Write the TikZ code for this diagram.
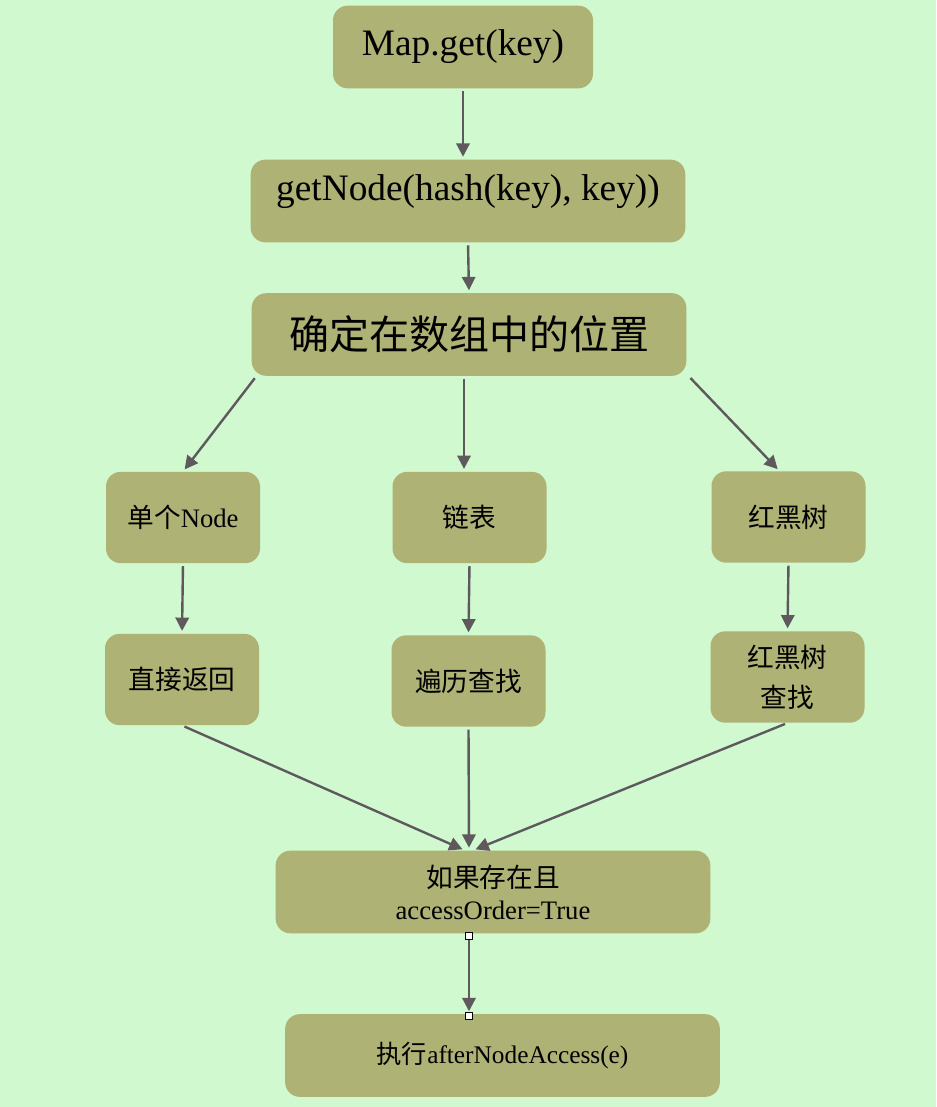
\documentclass[tikz,border=0pt]{standalone}
\usepackage{fontspec}
\setmainfont{Liberation Serif}
\newfontfamily\cjk{Noto Sans CJK SC}
\usetikzlibrary{arrows.meta,calc,positioning}
\definecolor{bggreen}{RGB}{208,249,208}
\definecolor{boxolive}{RGB}{174,178,116}
\definecolor{arrgray}{RGB}{95,89,94}
\tikzset{
	>={Triangle[length=10pt,width=10pt]},
	bigbox/.style={
		rectangle,
		rounded corners=11pt,
		fill=boxolive,
		minimum width=326pt,
		minimum height=62pt,
		inner sep=0pt,
		align=center},
	smallbox/.style={
		rectangle,
		rounded corners=11pt,
		fill=boxolive,
		minimum width=115.5pt,
		minimum height=68.5pt,
		inner sep=0pt,
		align=center,
		font=\fontsize{20}{30}\selectfont},
	arr/.style={
		->,
		draw=arrgray,
		line width=1.8pt,
		shorten <=2pt,
		shorten >=2pt,},
	handle/.style={
		rectangle,
		draw=black,
		fill=white,
		line width=0.5pt,
		minimum size=5pt,
		inner sep=0pt}
}

\begin{document}
\begin{tikzpicture}[x=0.75pt,y=0.75pt,yscale=-1,xscale=1]
\fill[bggreen] (0,0) rectangle (936,1107);

% Boxes
\node[bigbox, minimum width=195pt, font=\fontsize{28}{34}\selectfont] (mapget) at (463,47) {Map.get(key)};
\node[bigbox, font=\fontsize{28}{34}\selectfont] (getnode) at (468,201) {\raisebox{7pt}[\height][\depth]{getNode(hash(key), key))}};
\node[bigbox, font=\cjk\fontsize{30}{36}\selectfont] (locate) at (469,334.5) {确定在数组中的位置};
\node[smallbox] (single) at (183,517.5) {{\cjk 单个}Node};
\node[smallbox] (list) at (469.5,517.5) {\cjk 链表};
\node[smallbox] (tree) at (788.5,517) {\cjk 红黑树};
\node[smallbox] (ret) at (182,679.5) {\cjk 直接返回};
\node[smallbox] (traverse) at (468.5,681) {\cjk 遍历查找};
\node[smallbox, font=\cjk\fontsize{20}{30}\selectfont] (treefind) at (787.5,677) {红黑树\\查找};
\node[bigbox, font=\fontsize{20}{24}\selectfont] (check) at (493,892) {{\cjk 如果存在且}\\accessOrder=True};
\node[bigbox, font=\fontsize{19}{24}\selectfont] (access) at (502.5,1055.5) {{\cjk 执行}afterNodeAccess(e)};

% Arrows
\draw[arr] (mapget.south) -- (mapget.south |- getnode.north);
\draw[arr] (getnode.south) -- (locate.north);
\draw[arr] ($(locate.south west)+(5,0)$) -- (single.north);
\draw[arr] ($(locate.south)+(-5,0)$) -- ($(locate.south |- list.north)+(-5,0)$);
\draw[arr] ($(locate.south east)+(2,0)$) -- ($(tree.north)+(-9,0)$);
\draw[arr] (single.south) -- (ret.north);
\draw[arr] (list.south) -- (traverse.north);
\draw[arr] (tree.south) -- (treefind.north);
\draw[arr] (ret.south) -- ($(check.north)+(-28,0)$);
\draw[arr] (traverse.south) -- ($(check.north)+(-24,0)$);
\draw[arr] (treefind.south) -- ($(check.north)+(-20,0)$);
\draw[arr] ($(check.south)+(-24,0)$) -- ($(access.north)+(-33.5,0)$);

% Handles
\node[handle] (htop) at ($(check.south)+(-24,2)$) {};
\node[handle] (hbot) at ($(access.north)+(-33.5,2)$) {};
\end{tikzpicture}
\end{document}
